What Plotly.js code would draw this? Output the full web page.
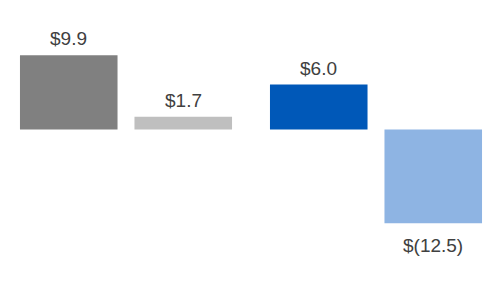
<!DOCTYPE html>
<html>
<head>
<meta charset="utf-8">
<script src="https://cdn.plot.ly/plotly-3.0.1.min.js"></script>
<style>html,body{margin:0;padding:0;background:#fff;}#chart{width:500px;height:300px;}</style>
</head>
<body>
<div id="chart"></div>
<script>
const groups = ["A", "B"];
const firstValues = [9.9, 6.0];
const secondValues = [1.7, -12.5];
const firstColors = ["#808080", "#0058B8"];
const secondColors = ["#BFBFBF", "#8EB4E3"];

function fmt(v) {
  return v < 0 ? "$(" + (-v).toFixed(1) + ")" : "$" + v.toFixed(1);
}

const data = [
  {type: "bar", x: groups, y: firstValues, marker: {color: firstColors, line: {width: 0}}, hoverinfo: "none"},
  {type: "bar", x: groups, y: secondValues, marker: {color: secondColors, line: {width: 0}}, hoverinfo: "none"}
];

// value labels placed at each bar's end, shifted to each bar's slot within its group
const slotShift = 57.25;
const labelFont = {family: "Liberation Sans, Arial, sans-serif", size: 19, color: "#404040"};
const annotations = [];
[firstValues, secondValues].forEach((vals, t) => {
  vals.forEach((v, i) => {
    annotations.push({
      x: groups[i], y: v, xref: "x", yref: "y",
      text: fmt(v), showarrow: false, font: labelFont,
      xanchor: "center",
      yanchor: v < 0 ? "top" : "bottom",
      xshift: t === 0 ? -slotShift : slotShift,
      yshift: v < 0 ? -10 : 4
    });
  });
});

const layout = {
  width: 500, height: 300,
  margin: {l: 0, r: 0, t: 0, b: 0},
  paper_bgcolor: "#fff", plot_bgcolor: "#fff",
  barmode: "group",
  bargap: 0.084,
  bargroupgap: 0.148,
  showlegend: false,
  annotations: annotations,
  xaxis: {type: "category", range: [-0.504, 1.496], visible: false, showgrid: false, zeroline: false},
  yaxis: {range: [-22.73, 17.27], visible: false, showgrid: false, zeroline: false}
};

Plotly.newPlot("chart", data, layout, {staticPlot: true});
</script>
</body>
</html>
